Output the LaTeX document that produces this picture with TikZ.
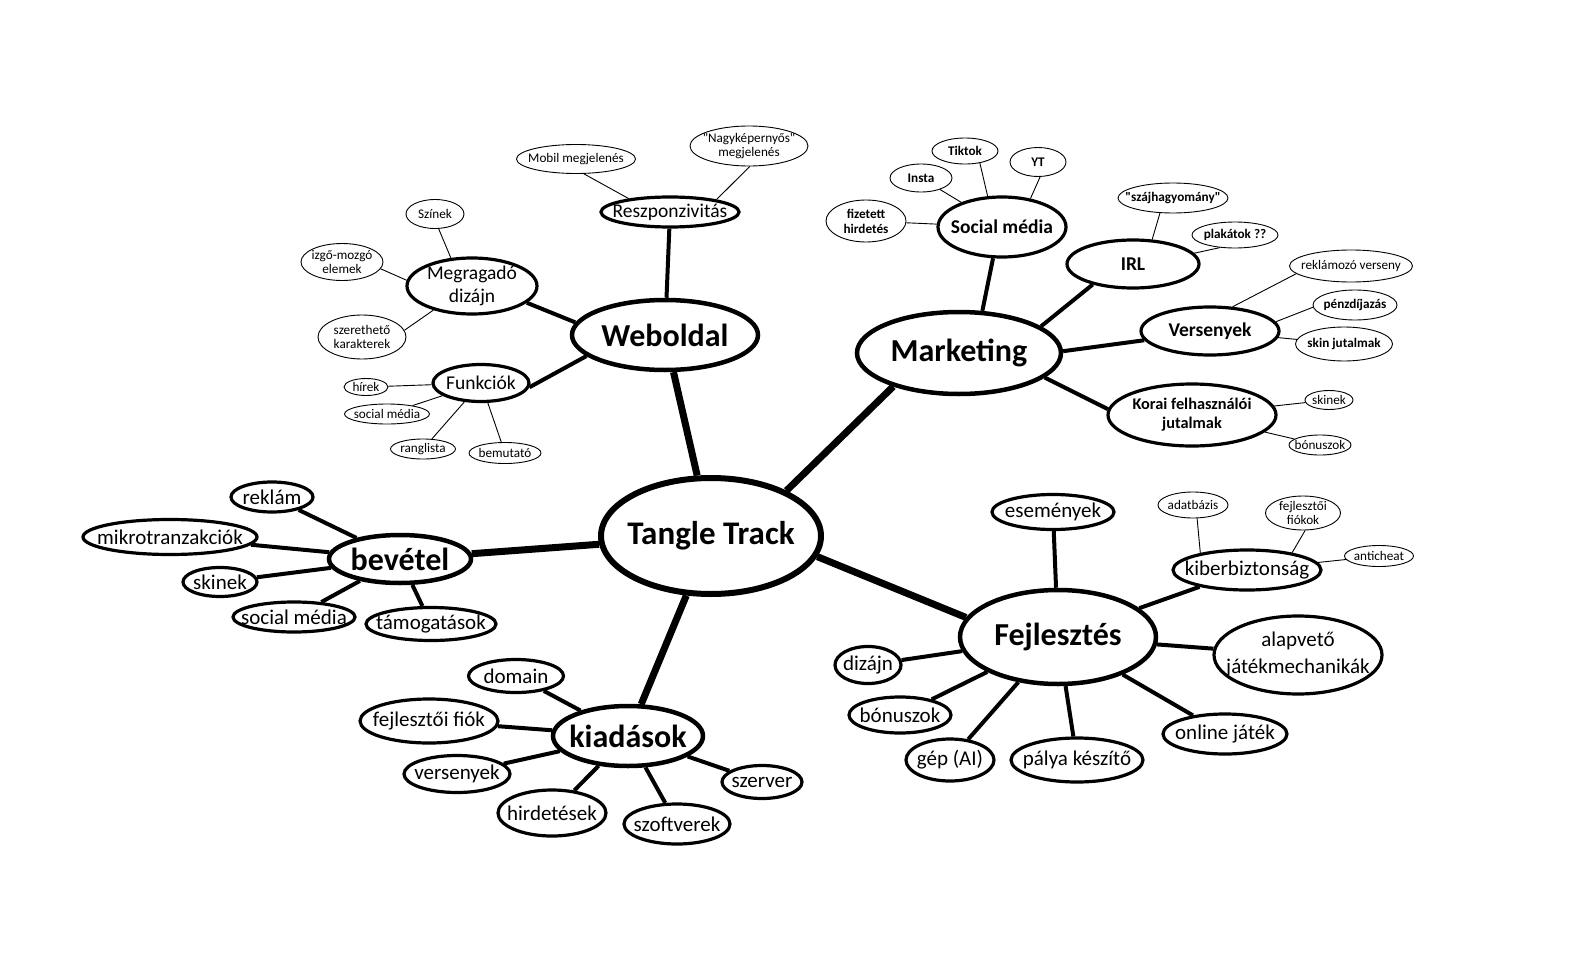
\documentclass[tikz,border=0pt]{standalone}
\usepackage{fontspec}
\setmainfont{Carlito}[Ligatures=TeXOff]
\usetikzlibrary{shapes.geometric}
\pgfdeclarelayer{bg}
\pgfsetlayers{bg,main}
\tikzset{
 ell/.style={ellipse,draw,fill=white,inner sep=0pt},
 root/.style={ell,line width=6pt},
 lvone/.style={ell,line width=4.5pt},
 lvtwo/.style={ell,line width=3.2pt},
 lvthree/.style={ell,line width=0.9pt},
 txt/.style={inner sep=0pt,align=center},
 ezero/.style={line width=7pt},
 eone/.style={line width=4pt},
 etwo/.style={line width=0.9pt},
}
\newcommand\fsz[2]{\fontsize{#1}{#2}\selectfont}
\newcommand\bub[7]{%
 \node[#1,minimum width=#4pt,minimum height=#5pt] (#2) at (#3) {};
 \node[txt,font=#6] (#2-t) at (#2.center) {#7};}
\newcommand\FBig{\fsz{32}{35}\bfseries}
\newcommand\FMid{\fsz{19.5}{23}}
\newcommand\FMidB{\fsz{19.5}{23}\bfseries}
\newcommand\FKid{\fsz{21}{27}}
\newcommand\FSm{\fsz{13.2}{14}}
\newcommand\FSmB{\fsz{13.2}{15}\bfseries}
\begin{document}
\begin{tikzpicture}[x=1pt,y=-1pt]
\useasboundingbox (0,0) rectangle (1572,974);
% centre and main branches
\bub{root}{tt}{711,536}{220}{116}{\fsz{33}{36}\bfseries}{Tangle Track}
\bub{lvone}{web}{665,335}{186}{70}{\FBig}{Weboldal}
\bub{lvone}{mk}{959,353}{204}{82}{\FBig}{Marketing}
\bub{lvone}{fj}{1058,637}{196}{94}{\FBig}{Fejlesztés}
\bub{lvone}{bev}{400,559}{142}{48}{\FBig}{bevétel}
\bub{lvone}{kia}{628,736}{150}{60}{\FBig}{kiadások}
% Weboldal
\bub{lvtwo}{resz}{670,212}{138}{30}{\FMid}{Reszponzivitás}
\bub{lvtwo}{meg}{472,286}{130}{56}{\FMid}{Megragadó\\dizájn}
\bub{lvtwo}{funk}{481,383}{96}{37}{\FMid}{Funkciók}
\bub{lvthree}{mob}{576,159}{119}{29}{\FSm}{Mobil megjelenés}
\bub{lvthree}{nagy}{749,146}{118}{40}{\FSm}{"Nagyképernyős"\\megjelenés}
\bub{lvthree}{szin}{435,214}{58}{29}{\FSm}{Színek}
\bub{lvthree}{izgo}{342,262}{82}{37}{\FSm}{izgő-mozgó\\elemek}
\bub{lvthree}{szer}{362,337}{88}{44}{\FSm}{szerethető\\karakterek}
\bub{lvthree}{hir}{366,387}{44}{17}{\FSm}{hírek}
\bub{lvthree}{socw}{387,414}{85}{20}{\FSm}{social média}
\bub{lvthree}{rang}{423,449}{65}{20}{\FSm}{ranglista}
\bub{lvthree}{bem}{505,453}{72}{21}{\FSm}{bemutató}
% Marketing
\bub{lvtwo}{soc}{1002,227}{128}{60}{\FMidB}{Social média}
\bub{lvtwo}{irl}{1133,264}{132}{48}{\FMidB}{IRL}
\bub{lvtwo}{vers}{1210,331}{138}{48}{\FMidB}{Versenyek}
\bub{lvtwo}{korai}{1192,415}{168}{62}{\fsz{16.3}{19}\bfseries}{Korai felhasználói\\jutalmak}
\bub{lvthree}{fiz}{866,221}{80}{42}{\FSmB}{fizetett\\hirdetés}
\bub{lvthree}{insta}{921,178}{62}{28}{\FSmB}{Insta}
\bub{lvthree}{tik}{965,151}{66}{26}{\FSmB}{Tiktok}
\bub{lvthree}{yt}{1038,162}{56}{29}{\FSmB}{YT}
\bub{lvthree}{szaj}{1173,198}{110}{30}{\FSmB}{"szájhagyomány"}
\bub{lvthree}{plak}{1235,235}{86}{26}{\FSmB}{plakátok ??}
\bub{lvthree}{rek}{1351,266}{123}{32}{\FSm}{reklámozó verseny}
\bub{lvthree}{penz}{1355,305}{84}{30}{\FSmB}{pénzdíjazás}
\bub{lvthree}{skin}{1344,344}{97}{34}{\FSmB}{skin jutalmak}
\bub{lvthree}{skk}{1329,400}{48}{19}{\FSm}{skinek}
\bub{lvthree}{bonk}{1320,445}{62}{20}{\FSm}{bónuszok}
% Fejlesztes
\bub{lvtwo}{esem}{1053,512}{122}{35}{\FKid}{események}
\bub{lvtwo}{kib}{1247,570}{148}{40}{\FKid}{kiberbiztonság}
\bub{lvtwo}{alap}{1298,655}{168}{78}{\FKid}{alapvető\\játékmechanikák}
\bub{lvtwo}{onl}{1225,734}{124}{40}{\FKid}{online játék}
\bub{lvtwo}{pal}{1077,760}{132}{44}{\FKid}{pálya készítő}
\bub{lvtwo}{gep}{950,760}{88}{42}{\FKid}{gép (AI)}
\bub{lvtwo}{bon}{900,715}{102}{36}{\FKid}{bónuszok}
\bub{lvtwo}{diz}{868,665}{66}{37}{\FKid}{dizájn}
\bub{lvthree}{adat}{1193,505}{70}{26}{\FSm}{adatbázis}
\bub{lvthree}{fiok}{1303,513}{75}{34}{\FSm}{fejlesztői\\fiókok}
\bub{lvthree}{anti}{1379,556}{69}{21}{\FSm}{anticheat}
% bevetel
\bub{lvtwo}{rekb}{272,497}{82}{30}{\FKid}{reklám}
\bub{lvtwo}{mikro}{170,537}{174}{35}{\FKid}{mikrotranzakciók}
\bub{lvtwo}{skb}{220,582}{74}{29}{\FKid}{skinek}
\bub{lvtwo}{socb}{294,617}{122}{30}{\FKid}{social média}
\bub{lvtwo}{tam}{431,624}{130}{33}{\FKid}{támogatások}
% kiadasok
\bub{lvtwo}{dom}{516,676}{95}{33}{\FKid}{domain}
\bub{lvtwo}{fejf}{429,721}{138}{44}{\FKid}{fejlesztői fiók}
\bub{lvtwo}{verk}{457,774}{106}{37}{\FKid}{versenyek}
\bub{lvtwo}{hird}{552,813}{108}{46}{\FKid}{hirdetések}
\bub{lvtwo}{szof}{677,824}{106}{40}{\FKid}{szoftverek}
\bub{lvtwo}{szerv}{762,782}{80}{33}{\FKid}{szerver}
\begin{pgfonlayer}{bg}
\fill[white] (0,0) rectangle (1572,974);
% main connectors
\draw[ezero] (tt) -- (web);
\draw[ezero] (tt.31) -- (mk.207);
\draw[ezero] (tt.-11) -- (fj.168);
\draw[ezero] (tt) -- (bev);
\draw[ezero] (tt) -- (kia);
% Weboldal
\draw[eone] (web) -- (resz);
\draw[eone] (web.172) -- (meg.-17);
\draw[eone] (web.195) -- (funk.-5);
\draw[etwo] (resz.162) -- (mob.-62);
\draw[etwo] (resz.15) -- (nagy.-88);
\draw[etwo] (meg.127) -- (szin.-76);
\draw[etwo] (meg.175) -- (izgo.-10);
\draw[etwo] (meg.212) -- (szer.9);
\draw[etwo] (funk) -- (hir);
\draw[etwo] (funk) -- (socw);
\draw[etwo] (funk) -- (rang);
\draw[etwo] (funk) -- (bem);
% Marketing
\draw[eone] (mk.61) -- (soc.254);
\draw[eone] (mk.18) -- (irl.207);
\draw[eone] (mk.1) -- (vers.188);
\draw[eone] (mk.-16) -- (korai.176);
\draw[etwo] (soc) -- (fiz);
\draw[etwo] (soc) -- (insta);
\draw[etwo] (soc.115) -- (tik.-39);
\draw[etwo] (soc.45) -- (yt.-82);
\draw[etwo] (irl.52) -- (szaj.229);
\draw[etwo] (irl.10) -- (plak.220);
\draw[etwo] (vers.47) -- (rek.188);
\draw[etwo] (vers.8) -- (penz.183);
\draw[etwo] (vers) -- (skin);
\draw[etwo] (korai) -- (skk);
\draw[etwo] (korai) -- (bonk);
% Fejlesztes
\draw[eone] (fj) -- (esem);
\draw[eone] (fj) -- (kib);
\draw[eone] (fj) -- (alap);
\draw[eone] (fj) -- (onl);
\draw[eone] (fj) -- (pal);
\draw[eone] (fj) -- (gep);
\draw[eone] (fj) -- (bon);
\draw[eone] (fj) -- (diz);
\draw[etwo] (kib.160) -- (adat.-73);
\draw[etwo] (kib.21) -- (fiok.-83);
\draw[etwo] (kib) -- (anti);
% bevetel
\draw[eone] (bev) -- (rekb);
\draw[eone] (bev) -- (mikro);
\draw[eone] (bev) -- (skb);
\draw[eone] (bev) -- (socb);
\draw[eone] (bev) -- (tam);
% kiadasok
\draw[eone] (kia) -- (dom);
\draw[eone] (kia) -- (fejf);
\draw[eone] (kia) -- (verk);
\draw[eone] (kia) -- (hird);
\draw[eone] (kia) -- (szof);
\draw[eone] (kia) -- (szerv);
\end{pgfonlayer}
\end{tikzpicture}
\end{document}
